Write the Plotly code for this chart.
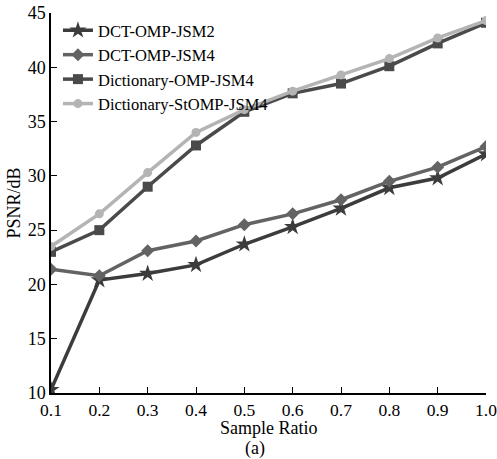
import plotly.graph_objects as go

# ─── Data ────────────────────────────────────────────────────────────────────
sample_ratio = [0.1, 0.2, 0.3, 0.4, 0.5, 0.6, 0.7, 0.8, 0.9, 1.0]
dct_omp_jsm2 = [10.3, 20.4, 21.0, 21.8, 23.7, 25.3, 27.0, 28.9, 29.8, 32.0]
dct_omp_jsm4 = [21.4, 20.8, 23.1, 24.0, 25.5, 26.5, 27.8, 29.5, 30.8, 32.7]
dict_omp_jsm4 = [23.0, 25.0, 29.0, 32.8, 35.9, 37.6, 38.5, 40.1, 42.2, 44.1]
dict_stomp_jsm4 = [23.5, 26.5, 30.3, 34.0, 36.1, 37.8, 39.3, 40.8, 42.7, 44.3]

series = [
    ("DCT-OMP-JSM2", dct_omp_jsm2, "#3c3c3c", "star", 13),
    ("DCT-OMP-JSM4", dct_omp_jsm4, "#636363", "diamond", 10),
    ("Dictionary-OMP-JSM4", dict_omp_jsm4, "#4a4a4a", "square", 10),
    ("Dictionary-StOMP-JSM4", dict_stomp_jsm4, "#b4b4b4", "circle", 9),
]

FONT = "Liberation Serif"

fig = go.Figure()
for name, vals, color, symbol, size in series:
    fig.add_trace(go.Scatter(
        x=sample_ratio, y=vals, name=name, mode="lines+markers",
        line=dict(color=color, width=3.5),
        marker=dict(symbol=symbol, size=size, color=color),
    ))

fig.update_layout(
    width=497, height=459,
    paper_bgcolor="white", plot_bgcolor="white",
    font=dict(family=FONT, size=17, color="black"),
    margin=dict(l=51, r=11, t=13, b=66),
    showlegend=True,
    legend=dict(
        x=0.016, y=1.0, xanchor="left", yanchor="top",
        bgcolor="rgba(0,0,0,0)", font=dict(family=FONT, size=16.5),
        tracegroupgap=0, itemwidth=30,
    ),
    xaxis=dict(
        range=[0.1, 1.0], tickvals=sample_ratio,
        ticktext=["0.1", "0.2", "0.3", "0.4", "0.5", "0.6", "0.7", "0.8", "0.9", "1.0"],
        ticks="inside", ticklen=6, tickcolor="black",
        showline=True, linecolor="black", linewidth=1.5,
        showgrid=False, zeroline=False, automargin=False,
        ticklabeloverflow="allow",
        tickfont=dict(family=FONT, size=17.5),
    ),
    yaxis=dict(
        range=[10, 45], tickvals=[10, 15, 20, 25, 30, 35, 40, 45],
        ticks="inside", ticklen=6, tickcolor="black",
        showline=True, linecolor="black", linewidth=1.5,
        showgrid=False, zeroline=False, automargin=False,
        ticklabeloverflow="allow",
        tickfont=dict(family=FONT, size=18),
        title=dict(text="PSNR/dB", standoff=2, font=dict(family=FONT, size=18)),
    ),
    annotations=[
        dict(
            text="Sample Ratio", xref="paper", yref="paper", x=0.5, y=-0.093,
            xanchor="center", yanchor="middle", showarrow=False,
            font=dict(family=FONT, size=18),
        ),
        dict(
            text="(a)", xref="paper", yref="paper", x=0.47, y=-0.146,
            xanchor="center", yanchor="middle", showarrow=False,
            font=dict(family=FONT, size=18),
        ),
    ],
)

fig.write_html(
    "out.html",
    config={"displayModeBar": False},
    post_script="document.body.style.margin='0';",
)
